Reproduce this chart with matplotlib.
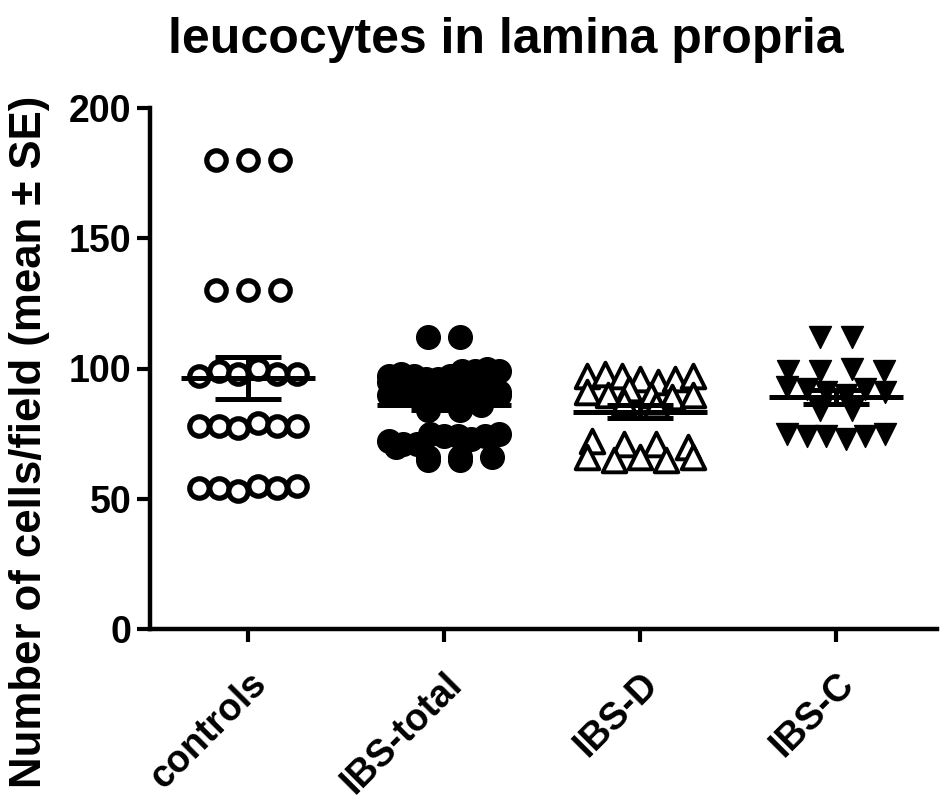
import numpy as np
import matplotlib
matplotlib.use("Agg")
import matplotlib.pyplot as plt
import matplotlib.transforms as mtransforms

plt.rcParams['font.family'] = ['Liberation Sans', 'DejaVu Sans']
plt.rcParams['font.weight'] = 'bold'

# ---- data ----
categories = ["controls", "IBS-total", "IBS-D", "IBS-C"]

controls = [180, 180, 180,
            130, 130, 130,
            97, 99, 98, 100, 98, 98,
            78, 78, 77, 79, 78, 78,
            54, 54, 53, 55, 54, 55]

ibs_d = [97, 98, 97, 96, 95, 96, 97,
         91, 90, 92, 90, 89, 90,
         87, 86,
         72, 71, 71, 70,
         66, 65, 66, 65, 66]

ibs_c = [112, 112,
         99, 99, 100, 99,
         93, 92, 91, 90, 92, 91,
         84, 84,
         75, 74, 74, 73, 74, 75]

ibs_total = ibs_d + ibs_c

title = "leucocytes in lamina propria"
ylabel = "Number of cells/field (mean \u00b1 SE)"
yticks = [0, 50, 100, 150, 200]


def row_offsets(vals, tol=4.0, maxw=0.5, step=0.163):
    vals = np.asarray(vals, float)
    order = np.argsort(-vals, kind="stable")
    rows = []
    for i in order:
        if rows and vals[rows[-1][0]] - vals[i] <= tol:
            rows[-1].append(i)
        else:
            rows.append([i])
    xs = np.zeros(len(vals))
    for r in rows:
        n = len(r)
        sp = step if n < 2 else min(step, maxw / (n - 1))
        offs = (np.arange(n) - (n - 1) / 2) * sp
        idx_sorted = sorted(r)
        for j, idx in enumerate(idx_sorted):
            xs[idx] = offs[j]
    return xs


fig = plt.figure(figsize=(9.45, 8.06), dpi=100)
ax = fig.add_axes([150 / 945, 1 - 629 / 806, 787 / 945, 521 / 806])

groups = [controls, ibs_total, ibs_d, ibs_c]
styles = [
    dict(marker="o", s=195, facecolors="white", edgecolors="black", linewidths=3.8, maxw=0.5),
    dict(marker="o", s=290, facecolors="black", edgecolors="black", linewidths=1.0, maxw=0.56),
    dict(marker="^", s=290, facecolors="white", edgecolors="black", linewidths=2.8, maxw=0.54),
    dict(marker="v", s=250, facecolors="black", edgecolors="black", linewidths=1.0, maxw=0.5),
]

for k, (vals, st) in enumerate(zip(groups, styles)):
    st = dict(st)
    maxw = st.pop("maxw")
    v = np.asarray(vals, float)
    xs = k + row_offsets(v, maxw=maxw)
    ax.scatter(xs, v, zorder=3, clip_on=False, **st)
    m = v.mean()
    se = v.std(ddof=1) / np.sqrt(len(v))
    ax.hlines(m, k - 0.34, k + 0.34, colors="black", lw=3.6, zorder=4)
    ax.vlines(k, m - se, m + se, colors="black", lw=3.6, zorder=4)
    ax.hlines([m - se, m + se], k - 0.17, k + 0.17, colors="black", lw=3.6, zorder=4)

ax.set_xlim(-0.5, 3.515)
ax.set_ylim(0, 200)
ax.set_yticks(yticks)
ax.set_xticks(range(len(categories)))
ax.set_xticklabels(categories, rotation=45, ha="right", rotation_mode="anchor",
                   fontsize=27, fontweight="bold")
ax.set_yticklabels([str(t) for t in yticks], fontsize=27, fontweight="bold")
shift = mtransforms.ScaledTranslation(-8 / 100, 0, fig.dpi_scale_trans)
for lab in ax.get_xticklabels():
    lab.set_transform(lab.get_transform() + shift)

for side in ("top", "right"):
    ax.spines[side].set_visible(False)
for side in ("left", "bottom"):
    ax.spines[side].set_linewidth(3.2)
ax.tick_params(axis="both", length=9.5, width=3.0, direction="out")
ax.tick_params(axis="y", pad=4)
ax.tick_params(axis="x", pad=17)

fig.text(506 / 945, 1 - 53 / 806, title, fontsize=36, fontweight="bold",
         ha="center", va="baseline")
fig.text(30 / 945, 1 - 442 / 806, ylabel, fontsize=31.5, fontweight="bold",
         rotation=90, ha="center", va="center")

fig.savefig("out.png", dpi=100)
